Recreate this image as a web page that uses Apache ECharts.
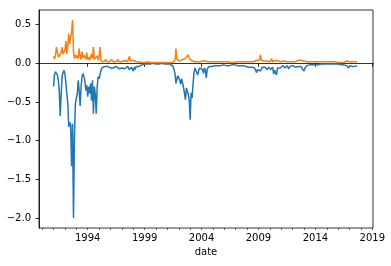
<!DOCTYPE html>
<html>
<head>
<meta charset="utf-8">
<script src="https://cdn.jsdelivr.net/npm/echarts@6/dist/echarts.min.js"></script>
<style>html,body{margin:0;padding:0;background:#fff}#c{width:391px;height:266px}</style>
</head>
<body>
<div id="c"></div>
<script>
// Monthly series, first point January 1991
const startYear = 1991;
const blueValues = [
  -0.30,-0.14,-0.11,-0.13,-0.15,-0.22,-0.35,-0.68,-0.40,-0.17,-0.12,-0.09,
  -0.14,-0.26,-0.40,-0.52,-0.82,-0.76,-0.80,-1.33,-0.78,-2.00,-0.95,-0.52,
  -0.45,-0.39,-0.22,-0.36,-0.55,-0.30,-0.17,-0.13,-0.15,-0.22,-0.35,-0.28,
  -0.43,-0.30,-0.39,-0.26,-0.48,-0.22,-0.65,-0.30,-0.40,-0.65,-0.30,-0.17,
  -0.20,-0.22,-0.09,-0.06,-0.05,-0.07,-0.04,-0.06,-0.05,-0.04,-0.06,-0.05,
  -0.06,-0.05,-0.08,-0.06,-0.05,-0.07,-0.04,-0.06,-0.05,-0.07,-0.06,-0.05,
  -0.06,-0.04,-0.05,-0.07,-0.05,-0.06,-0.04,-0.05,-0.08,-0.06,-0.05,-0.07,
  -0.10,-0.05,-0.08,-0.04,-0.06,-0.03,-0.04,-0.02,-0.03,-0.02,-0.01,-0.01,
  -0.01,-0.01,0.00,-0.01,-0.01,0.00,-0.01,-0.01,-0.01,0.00,-0.01,-0.01,
  -0.01,0.00,-0.01,-0.01,-0.01,-0.01,0.00,-0.01,-0.01,-0.01,-0.02,-0.01,
  -0.01,-0.01,-0.02,-0.01,-0.02,-0.03,-0.04,-0.06,-0.13,-0.26,-0.20,-0.16,
  -0.18,-0.22,-0.27,-0.20,-0.25,-0.31,-0.39,-0.47,-0.32,-0.36,-0.40,-0.47,
  -0.73,-0.38,-0.45,-0.27,-0.12,-0.06,-0.08,-0.07,-0.15,-0.09,-0.06,-0.04,
  -0.05,-0.08,-0.13,-0.06,-0.09,-0.19,-0.07,-0.05,-0.04,-0.06,-0.05,-0.04,
  -0.03,-0.02,-0.03,-0.04,-0.02,-0.03,-0.02,-0.02,-0.03,-0.02,-0.03,-0.02,
  -0.02,-0.02,-0.03,-0.02,-0.04,-0.03,-0.02,-0.02,-0.02,-0.03,-0.02,-0.02,
  -0.02,-0.02,-0.03,-0.02,-0.02,-0.03,-0.02,-0.04,-0.03,-0.02,-0.03,-0.04,
  -0.03,-0.04,-0.05,-0.03,-0.04,-0.05,-0.04,-0.05,-0.06,-0.09,-0.12,-0.08,
  -0.07,-0.06,-0.10,-0.08,-0.05,-0.06,-0.07,-0.05,-0.06,-0.08,-0.06,-0.05,
  -0.06,-0.08,-0.07,-0.05,-0.14,-0.09,-0.07,-0.15,-0.06,-0.04,-0.05,-0.06,
  -0.04,-0.05,-0.03,-0.04,-0.06,-0.04,-0.03,-0.05,-0.07,-0.04,-0.03,-0.04,
  -0.03,-0.04,-0.03,-0.05,-0.04,-0.03,-0.04,-0.05,-0.06,-0.04,-0.07,-0.09,
  -0.10,-0.06,-0.04,-0.03,-0.02,-0.03,-0.02,-0.02,-0.03,-0.02,-0.02,-0.02,
  -0.02,-0.01,-0.02,-0.02,-0.01,-0.02,-0.01,-0.02,-0.01,-0.01,-0.02,-0.01,
  -0.01,-0.02,-0.01,-0.01,-0.02,-0.01,-0.01,-0.02,-0.01,-0.01,-0.02,-0.01,
  -0.01,-0.02,-0.01,-0.02,-0.01,-0.01,-0.02,-0.03,-0.02,-0.03,-0.05,-0.06,
  -0.03,-0.02,-0.03,-0.04,-0.02,-0.03,-0.04,-0.02,-0.03
];
const orangeValues = [
  0.09,0.06,0.10,0.21,0.15,0.08,0.06,0.10,0.14,0.21,0.12,0.10,
  0.17,0.29,0.12,0.22,0.38,0.25,0.34,0.40,0.56,0.15,0.06,0.11,
  0.07,0.10,0.06,0.19,0.10,0.05,0.15,0.07,0.11,0.09,0.05,0.14,
  0.05,0.08,0.04,0.06,0.12,0.06,0.21,0.05,0.03,0.07,0.10,0.04,
  0.09,0.21,0.03,0.02,0.04,0.02,0.03,0.05,0.02,0.03,0.04,0.02,
  0.03,0.05,0.03,0.02,0.04,0.03,0.02,0.03,0.05,0.02,0.03,0.02,
  0.02,0.03,0.02,0.04,0.02,0.03,0.02,0.03,0.09,0.03,0.02,0.03,
  0.04,0.02,0.03,0.02,0.02,0.01,0.02,0.01,0.02,0.01,0.01,0.01,
  0.01,0.01,0.01,0.02,0.01,0.01,0.01,0.01,0.01,0.01,0.01,0.01,
  0.01,0.01,0.01,0.01,0.01,0.01,0.01,0.01,0.01,0.01,0.02,0.01,
  0.01,0.01,0.01,0.01,0.01,0.02,0.01,0.02,0.04,0.19,0.05,0.03,
  0.04,0.03,0.04,0.04,0.05,0.06,0.05,0.06,0.07,0.08,0.11,0.07,
  0.05,0.04,0.03,0.03,0.02,0.03,0.02,0.02,0.03,0.02,0.02,0.02,
  0.02,0.03,0.02,0.02,0.03,0.02,0.02,0.02,0.03,0.02,0.02,0.02,
  0.02,0.02,0.01,0.02,0.02,0.01,0.02,0.02,0.01,0.02,0.02,0.01,
  0.01,0.02,0.02,0.01,0.02,0.01,0.02,0.01,0.02,0.02,0.01,0.02,
  0.01,0.02,0.01,0.02,0.02,0.01,0.02,0.02,0.01,0.02,0.02,0.02,
  0.02,0.02,0.01,0.02,0.02,0.01,0.02,0.02,0.02,0.03,0.04,0.03,
  0.03,0.04,0.11,0.04,0.03,0.02,0.03,0.02,0.02,0.03,0.02,0.02,
  0.02,0.03,0.06,0.02,0.03,0.02,0.04,0.02,0.02,0.03,0.02,0.02,
  0.02,0.02,0.02,0.03,0.02,0.02,0.02,0.03,0.02,0.02,0.02,0.02,
  0.02,0.02,0.02,0.02,0.02,0.03,0.04,0.06,0.03,0.04,0.03,0.04,
  0.03,0.04,0.02,0.02,0.02,0.02,0.02,0.02,0.02,0.02,0.02,0.02,
  0.02,0.01,0.02,0.02,0.01,0.02,0.02,0.01,0.02,0.02,0.01,0.02,
  0.02,0.01,0.02,0.02,0.02,0.01,0.02,0.02,0.01,0.02,0.02,0.02,
  0.01,0.02,0.02,0.01,0.02,0.02,0.01,0.02,0.02,0.03,0.02,0.02,
  0.02,0.02,0.03,0.02,0.02,0.02,0.02,0.02,0.02
];
const xMajorTicks = [1994, 1999, 2004, 2009, 2014, 2019];
const xMinorTicks = [1990,1991,1992,1993,1994,1995,1996,1997,1998,1999,2000,2001,2002,2003,2004,2005,2006,2007,2008,2009,2010,2011,2012,2013,2014,2015,2016,2017,2018,2019];
const yTicks = [-2.0, -1.5, -1.0, -0.5, 0.0, 0.5];

const toPoints = arr => arr.map((v, i) => [startYear + i / 12, v]);
const font = {fontFamily: 'DejaVu Sans', fontSize: 10, color: '#000'};
const xMin = 1989.72, xMax = 2019.06;

const chart = echarts.init(document.getElementById('c'), null, {renderer: 'canvas'});
chart.setOption({
  animation: false,
  grid: {left: 39, right: 18, top: 10, bottom: 38, show: true, borderColor: '#000', borderWidth: 0.8, containLabel: false},
  xAxis: [{
    type: 'value', min: xMin, max: xMax, position: 'bottom',
    name: 'date', nameLocation: 'middle', nameGap: 19,
    nameTextStyle: font,
    axisLine: {show: true, lineStyle: {color: '#000', width: 0.8}},
    axisTick: {show: true, customValues: xMajorTicks, length: 3.5, lineStyle: {color: '#000', width: 0.8}},
    axisLabel: Object.assign({customValues: xMajorTicks, margin: 5, formatter: v => String(Math.round(v))}, font),
    splitLine: {show: false}
  }, {
    type: 'value', min: xMin, max: xMax, position: 'bottom', gridIndex: 0,
    axisLine: {show: false},
    axisTick: {show: true, customValues: xMinorTicks, length: 2, lineStyle: {color: '#000', width: 0.6}},
    axisLabel: {show: false},
    splitLine: {show: false}
  }],
  yAxis: {
    type: 'value', min: -2.128, max: 0.689,
    axisLine: {show: true, lineStyle: {color: '#000', width: 0.8}},
    axisTick: {show: true, customValues: yTicks, length: 3.5, lineStyle: {color: '#000', width: 0.8}},
    axisLabel: Object.assign({customValues: yTicks, margin: 8,
      formatter: v => (v < -1e-9 ? '\u2212' : '') + Math.abs(v).toFixed(1)}, font),
    splitLine: {show: false}
  },
  series: [{
    type: 'line', xAxisIndex: 0, data: toPoints(blueValues), showSymbol: false,
    lineStyle: {color: '#1f77b4', width: 1.5}, itemStyle: {color: '#1f77b4'}
  }, {
    type: 'line', xAxisIndex: 0, data: toPoints(orangeValues), showSymbol: false,
    lineStyle: {color: '#ff7f0e', width: 1.5}, itemStyle: {color: '#ff7f0e'}
  }]
});
</script>
</body>
</html>
